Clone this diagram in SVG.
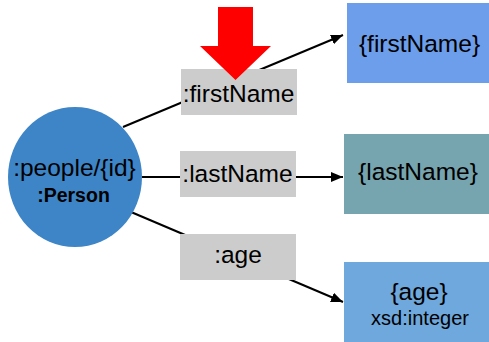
<svg xmlns="http://www.w3.org/2000/svg" width="489" height="342" viewBox="0 0 489 342">
<defs>
<style>
text{font-family:"Liberation Sans",Arial,sans-serif;fill:#000;text-anchor:middle}
.lbl{fill:#cccccc}
.big{font-size:24.5px}
.conn{stroke:#000;stroke-width:2;fill:none}
</style>
<marker id="ah" markerUnits="userSpaceOnUse" markerWidth="12" markerHeight="10" refX="12" refY="5" orient="auto">
<path d="M0,0 L12,5 L0,10 z" fill="#000"/>
</marker>
</defs>
<rect width="489" height="342" fill="#fff"/>
<g id="connectors">
<line class="conn" x1="123" y1="127" x2="343" y2="35" marker-end="url(#ah)"/>
<line class="conn" x1="142" y1="177" x2="343" y2="177" marker-end="url(#ah)"/>
<line class="conn" x1="131" y1="212" x2="343" y2="302" marker-end="url(#ah)"/>
</g>
<g id="person">
<ellipse cx="75" cy="177" rx="67" ry="70" fill="#3d85c6"/>
<text x="74.5" y="176" class="big">:people/{id}</text>
<text x="73.5" y="202" font-size="19.5" font-weight="bold">:Person</text>
</g>
<g id="lbl-firstName">
<rect class="lbl" x="181" y="69" width="116" height="46"/>
<text x="238.5" y="101.5" class="big">:firstName</text>
</g>
<g id="lbl-lastName">
<rect class="lbl" x="180" y="151" width="116" height="46"/>
<text x="237.5" y="182" class="big">:lastName</text>
</g>
<g id="lbl-age">
<rect class="lbl" x="180" y="234" width="116" height="46"/>
<text x="238" y="263" class="big">:age</text>
</g>
<g id="firstName">
<rect x="347" y="3" width="142" height="80" fill="#6d9eeb"/>
<text x="419.5" y="52" class="big">{firstName}</text>
</g>
<g id="lastName">
<rect x="344" y="134" width="145" height="80" fill="#76a5af"/>
<text x="418" y="179.5" class="big">{lastName}</text>
</g>
<g id="age">
<rect x="344" y="262" width="145" height="80" fill="#6fa8dc"/>
<text x="419" y="300" class="big">{age}</text>
<text x="420" y="325" font-size="20">xsd:integer</text>
</g>
<g id="red-arrow">
<path d="M218,7 L253,7 L253,46 L271,46 L235.5,80 L200,46 L218,46 z" fill="#ff0000"/>
</g>
</svg>
